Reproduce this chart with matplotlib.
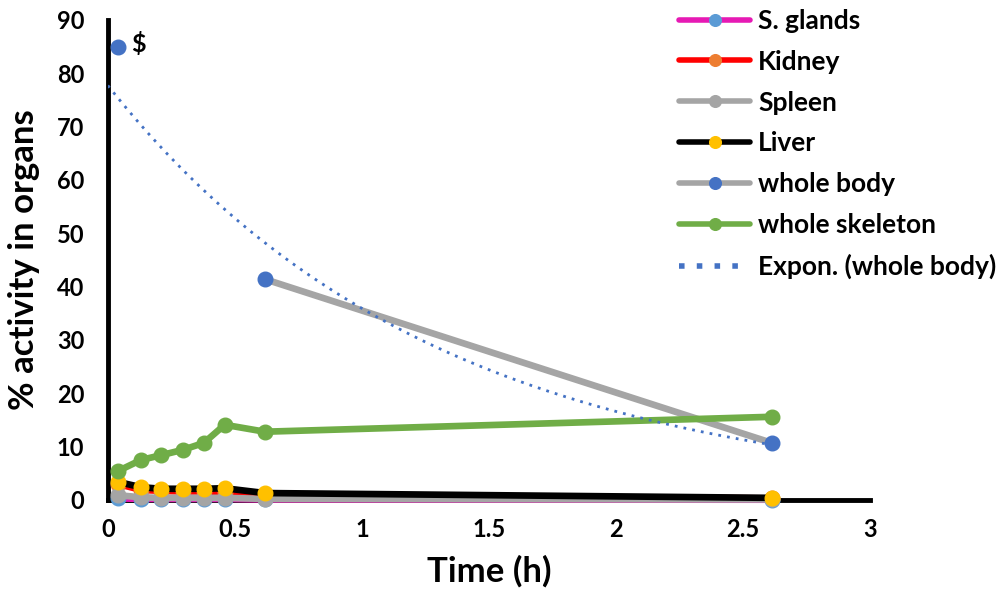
import numpy as np
import matplotlib
matplotlib.use("Agg")
import matplotlib.pyplot as plt

plt.rcParams['font.family'] = ['Lato', 'DejaVu Sans']
plt.rcParams['font.weight'] = 'bold'

# time points (h)
time_h = [0.039, 0.13, 0.21, 0.295, 0.378, 0.46, 0.618, 2.614]

s_glands = [0.3, 0.2, 0.2, 0.2, 0.2, 0.2, 0.1, 0.05]
kidney = [3.0, 1.9, 1.7, 1.6, 1.6, 1.5, 0.9, 0.3]
spleen = [0.9, 0.5, 0.4, 0.4, 0.4, 0.4, 0.2, 0.1]
liver = [3.4, 2.4, 2.1, 2.1, 2.1, 2.2, 1.3, 0.4]
whole_body = [84.9, np.nan, np.nan, np.nan, np.nan, np.nan, 41.4, 10.7]
whole_skeleton = [5.4, 7.5, 8.4, 9.4, 10.7, 14.1, 12.8, 15.6]

series = [
    ("S. glands", s_glands, "#E619B4", "#5B9BD5"),
    ("Kidney", kidney, "#FF0000", "#ED7D31"),
    ("Spleen", spleen, "#A5A5A5", "#A5A5A5"),
    ("Liver", liver, "#000000", "#FFC000"),
    ("whole body", whole_body, "#A5A5A5", "#4472C4"),
    ("whole skeleton", whole_skeleton, "#70AD47", "#70AD47"),
]

fig = plt.figure(figsize=(10.08, 6), dpi=100)
ax = fig.add_axes([0.107, 0.1667, 0.756, 0.80])

handles = []
for name, vals, lc, mc in series:
    h, = ax.plot(time_h, vals, color=lc, lw=4.8, marker='o', ms=10.5,
                 markerfacecolor=mc, markeredgecolor=mc, label=name,
                 solid_capstyle='round', clip_on=False)
    handles.append(h)

# exponential trendline of whole body
t = np.array(time_h)
wb = np.array(whole_body)
ok = ~np.isnan(wb)
b, lna = np.polyfit(t[ok], np.log(wb[ok]), 1)
xf = np.linspace(0, t[ok].max(), 200)
tr, = ax.plot(xf, np.exp(lna) * np.exp(b * xf), color="#4472C4", lw=2,
              linestyle=(0, (1, 2.2)), label="Expon. (whole body)", zorder=5)
handles.append(tr)

ax.text(0.09, 85.5, "$", fontsize=18, fontweight='bold', va='center')

ax.set_xlim(0, 3)
ax.set_ylim(0, 90)
ax.set_xticks([0, 0.5, 1, 1.5, 2, 2.5, 3])
ax.set_xticklabels(["0", "0.5", "1", "1.5", "2", "2.5", "3"])
ax.set_yticks(range(0, 91, 10))
ax.tick_params(length=0, labelsize=17)
ax.tick_params(axis='y', pad=17)
ax.tick_params(axis='x', pad=13)
for lab in ax.get_xticklabels() + ax.get_yticklabels():
    lab.set_fontweight('bold')
for s in ['top', 'right']:
    ax.spines[s].set_visible(False)
for s in ['left', 'bottom']:
    ax.spines[s].set_linewidth(3.5)
    ax.spines[s].set_zorder(0.5)

ax.set_xlabel("Time (h)", fontsize=25, fontweight='bold', labelpad=10)
ax.set_ylabel("% activity in organs", fontsize=25, fontweight='bold', labelpad=12)

leg = fig.legend(handles=handles, loc='upper left', bbox_to_anchor=(0.65, 1.025),
                 frameon=False, fontsize=19, handlelength=2.7, labelspacing=0.64,
                 handletextpad=0.3, markerscale=0.8)
for line in leg.get_lines():
    line.set_linewidth(4)
for txt in leg.get_texts():
    txt.set_fontweight('bold')

fig.savefig("out.png", dpi=100)
